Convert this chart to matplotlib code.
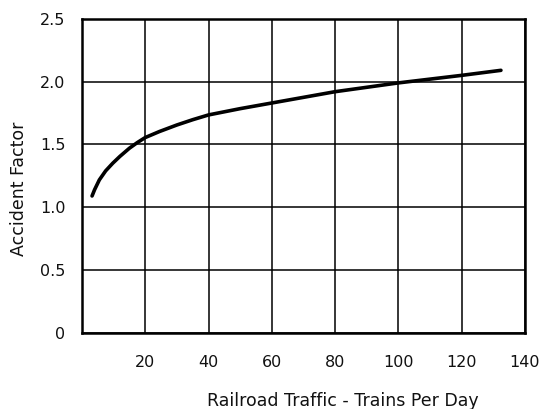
import matplotlib; matplotlib.use("Agg")
import matplotlib.pyplot as plt

plt.rcParams['font.family'] = ['DejaVu Sans']

# values
trains = [3.2, 4.0, 5.5, 7.5, 9.75, 12.0, 15.0, 17.5, 20, 24.5, 30, 35, 40, 50, 60, 70, 80, 90, 100, 110, 120, 132.4]
factor = [1.09, 1.14, 1.218, 1.29, 1.351, 1.405, 1.47, 1.515, 1.555, 1.603, 1.655, 1.697, 1.735, 1.785, 1.83, 1.875, 1.92, 1.955, 1.99, 2.02, 2.05, 2.09]

xticks = [20, 40, 60, 80, 100, 120, 140]
yticks = [0, 0.5, 1.0, 1.5, 2.0, 2.5]
ylabels = ["0", "0.5", "1.0", "1.5", "2.0", "2.5"]
INK = "#111111"

fig = plt.figure(figsize=(5.39, 4.09), dpi=100)
ax = fig.add_axes([0.152, 0.186, 0.822, 0.768])
ax.set_xlim(0, 140); ax.set_ylim(0, 2.5)
ax.set_xticks(xticks); ax.set_yticks(yticks)
ax.set_yticklabels(ylabels)
ax.grid(True, color="black", lw=1.1)
ax.set_axisbelow(True)
for s in ax.spines.values():
    s.set_linewidth(1.8)
ax.tick_params(length=0, labelsize=11.5, colors=INK)
ax.tick_params(axis="x", pad=16)
ax.tick_params(axis="y", pad=12)
ax.plot(trains, factor, color="black", lw=2.6, solid_capstyle="round", solid_joinstyle="round", zorder=3)

# axis titles sit off-centre in the original, so place them by hand
fig.text(0.636, 0.008, "Railroad Traffic - Trains Per Day", fontsize=12.5, color=INK, ha="center", va="baseline")
fig.text(0.036, 0.538, "Accident Factor", fontsize=12.5, color=INK, ha="center", va="center", rotation=90)

fig.savefig("out.png", dpi=100)
